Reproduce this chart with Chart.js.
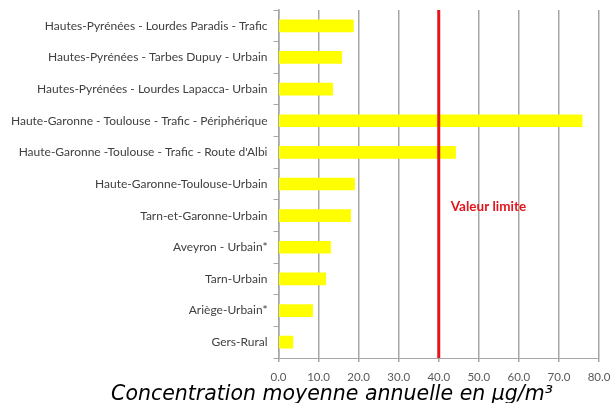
<!DOCTYPE html>
<html>
<head>
<meta charset="utf-8">
<script src="https://cdn.jsdelivr.net/npm/chart.js@4.4.1/dist/chart.umd.min.js"></script>
<style>
  html, body { margin: 0; padding: 0; background: #fff; }
  #wrap { width: 612px; height: 403px; position: relative; }
</style>
</head>
<body>
<div id="wrap"><canvas id="no2Chart"></canvas></div>
<script>
// stations, top to bottom
const stations = [
    'Hautes-Pyrénées - Lourdes Paradis - Trafic',
    'Hautes-Pyrénées - Tarbes Dupuy - Urbain',
    'Hautes-Pyrénées - Lourdes Lapacca- Urbain',
    'Haute-Garonne - Toulouse - Trafic - Périphérique',
    "Haute-Garonne -Toulouse - Trafic - Route d'Albi",
    'Haute-Garonne-Toulouse-Urbain',
    'Tarn-et-Garonne-Urbain',
    'Aveyron - Urbain*',
    'Tarn-Urbain',
    'Ariège-Urbain*',
    'Gers-Rural'
];
const concentrations = [18.7, 15.8, 13.5, 75.8, 44.2, 19.0, 18.0, 13.0, 11.8, 8.5, 3.6];
const limitValue = 40;
const limitLabel = 'Valeur limite';
const axisTitle = 'Concentration moyenne annuelle en µg/m³';
const xMin = 0, xMax = 80, xStep = 10;

// red limit line + its label + axis title
const limitPlugin = {
    id: 'limitLine',
    afterDatasetsDraw: (chart) => {
        const ctx = chart.ctx;
        const x = chart.scales.x.getPixelForValue(limitValue);
        const area = chart.chartArea;
        ctx.save();
        ctx.strokeStyle = '#e3141b';
        ctx.lineWidth = 3;
        ctx.beginPath();
        ctx.moveTo(x, area.top);
        ctx.lineTo(x, area.bottom);
        ctx.stroke();

        ctx.fillStyle = '#e3141b';
        ctx.font = 'bold 13.5px Lato, sans-serif';
        ctx.textBaseline = 'middle';
        ctx.textAlign = 'left';
        ctx.fillText(limitLabel, x + 12, 207);

        ctx.fillStyle = '#000';
        ctx.font = 'italic 20.5px "DejaVu Sans", sans-serif';
        ctx.textAlign = 'center';
        ctx.textBaseline = 'alphabetic';
        ctx.fillText(axisTitle, 332, 400);
        ctx.restore();
    }
};

new Chart(document.getElementById('no2Chart').getContext('2d'), {
    type: 'bar',
    data: {
        labels: stations,
        datasets: [{
            data: concentrations,
            backgroundColor: '#ffff00',
            borderWidth: 0,
            barThickness: 12
        }]
    },
    options: {
        indexAxis: 'y',
        responsive: true,
        maintainAspectRatio: false,
        animation: false,
        layout: { padding: { top: 10, right: 13, left: 0, bottom: 0 } },
        plugins: {
            legend: { display: false },
            tooltip: { enabled: false }
        },
        scales: {
            x: {
                min: xMin,
                max: xMax,
                ticks: {
                    stepSize: xStep,
                    callback: v => v.toFixed(1),
                    color: '#595959',
                    font: { family: 'Lato', size: 11.5 },
                    padding: 8,
                    maxRotation: 0
                },
                grid: { color: '#a6a6a6', lineWidth: 1.5, tickLength: 4 },
                border: { color: '#a6a6a6' },
                afterFit: (s) => { s.height = 45; s.paddingLeft = 0; s.paddingRight = 0; }
            },
            y: {
                ticks: {
                    color: '#404040',
                    font: { family: 'Lato', size: 12 },
                    padding: 6
                },
                grid: { drawOnChartArea: false, color: '#a6a6a6', tickLength: 5, offset: true },
                border: { color: '#a6a6a6', width: 1.5 },
                afterFit: (s) => { s.width = 278.5; s.paddingTop = 0; s.paddingBottom = 0; }
            }
        }
    },
    plugins: [limitPlugin]
});
</script>
</body>
</html>
